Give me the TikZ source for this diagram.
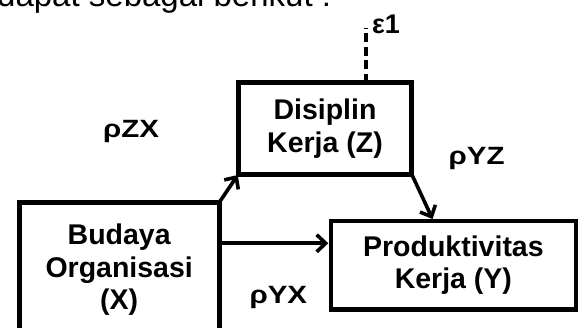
\documentclass[tikz,border=0pt]{standalone}
\usepackage{graphicx}
\usepackage{fontspec}
\setmainfont{Liberation Sans}
\usetikzlibrary{arrows.meta,calc}
\tikzset{
 box/.style={draw,line width=4.6pt,inner sep=0pt,outer sep=0pt,align=center,font=\fontsize{28.5}{32.5}\selectfont\bfseries},
 arr/.style={line width=3.6pt,-{Straight Barb[length=9pt,width=17pt]}},
 lbl/.style={font=\fontsize{25}{29}\selectfont\bfseries,anchor=base,inner sep=0pt},
 dashline/.style={line width=3.6pt,dash pattern=on 9pt off 4.5pt},
}
\begin{document}
\begin{tikzpicture}[x=1pt,y=-1pt]
\useasboundingbox (0,0) rectangle (585,327);
\clip (0,0) rectangle (585,327);
\node[anchor=base west,inner sep=0pt,font=\fontsize{33}{38}\selectfont] (intro) at (-3,6.8) {dapat sebagai berikut :};
\node[box,minimum width=173.4pt,minimum height=91.5pt] (Z) at (325,128.45) {Disiplin\\Kerja (Z)};
\node[box,minimum width=200pt,minimum height=135pt] (X) at (119.2,270) {Budaya\\Organisasi\\(X)};
\node[box,minimum width=245.2pt,minimum height=88.9pt] (Y) at (453.4,265.25) {Produktivitas\\Kerja (Y)};
\coordinate (xy) at ([yshift=22pt]Y.west);
\draw[arr,shorten >=2.5pt] (X.east |- xy) -- (xy);
\draw[arr,shorten >=1pt] (X.north east) -- (Z.south west);
\coordinate (zy) at ([xshift=-20pt]Y.north);
\draw[arr,shorten >=2pt] (Z.south east) -- (zy);
\coordinate (zt) at ([xshift=41pt]Z.north);
\coordinate (e) at ([yshift=54.4pt]zt);
\draw[dashline] (zt) -- (e);
\node[lbl,font=\fontsize{27}{31}\selectfont\bfseries] (eps) at (386,33.3) {ε1};
\node[lbl] (pzx) at (131,137.3) {\scalebox{1.18}[1]{ρZX}};
\node[lbl] (pyz) at (476.7,164.3) {\scalebox{1.18}[1]{ρYZ}};
\node[lbl] (pyx) at (278.3,303.3) {\scalebox{1.18}[1]{ρYX}};
\end{tikzpicture}
\end{document}
